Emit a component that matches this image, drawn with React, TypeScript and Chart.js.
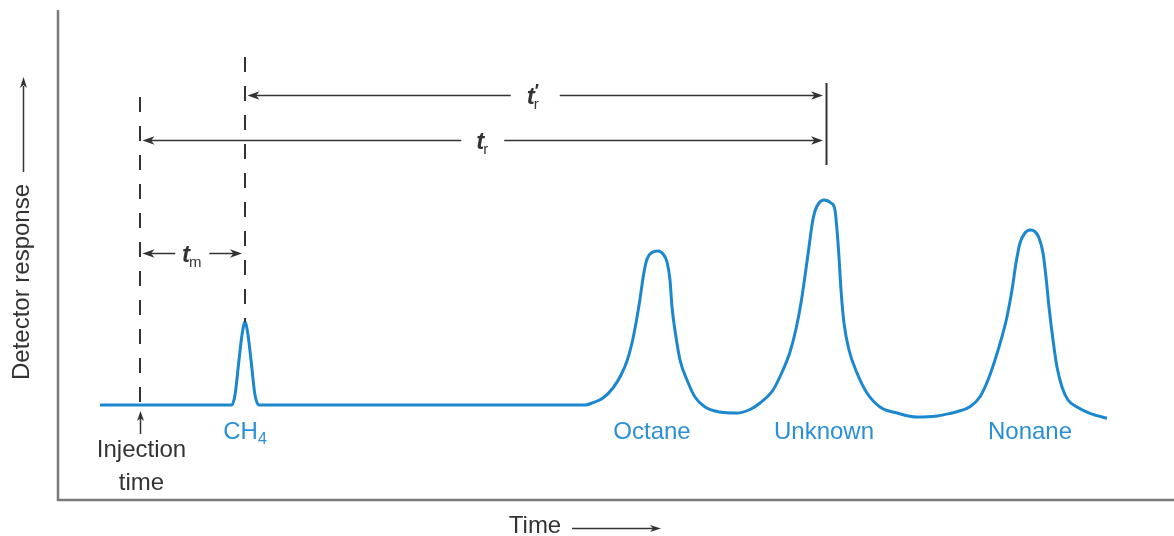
import React, { useEffect, useRef } from "react";
import { Chart, registerables } from "chart.js";

Chart.register(...registerables);

// Time axis (arbitrary units, injection at 0) and detector response (baseline at 0)
const timeValues = [
  -4.0, 9.17, 9.5, 9.9, 10.2, 10.5, 10.8, 11.1, 11.5, 11.9,
  44.5, 45.3, 46.3, 47.3, 48.1, 48.7, 49.2, 49.6, 50.0, 50.35, 50.7, 51.2, 51.8, 52.3, 52.7, 53.0, 53.2, 53.6, 54.0, 54.7, 55.5, 56.5, 58.0, 59.7, 61.0, 62.0,
  63.3, 64.3, 65.0, 65.6, 66.1, 66.5, 66.9, 67.2, 67.5, 67.9, 68.4, 69.1, 69.5, 69.7, 69.9, 70.1, 70.4, 70.9, 71.7, 72.7, 74.0, 75.7, 77.7, 79.7, 81.0,
  81.7, 83.0, 84.0, 84.8, 85.5, 86.2, 86.7, 87.2, 87.6, 88.0, 88.5, 89.0, 89.5, 89.9, 90.3, 90.6, 90.9, 91.3, 91.7, 92.2, 92.8, 93.7, 95.0, 96.7,
];
const responseValues = [
  0, 0, 1.0, 4.5, 7.0, 8.3, 7.0, 4.5, 1.0, 0,
  0, 0.23, 0.7, 1.7, 3.0, 4.4, 6.2, 8.2, 10.6, 13.0, 14.6, 15.25, 15.4, 15.1, 14.3, 12.5, 9.8, 6.8, 4.5, 2.5, 0.8, -0.2, -0.7, -0.8, -0.45, 0.2,
  1.5, 3.5, 5.3, 7.6, 10.2, 12.9, 15.8, 18.0, 19.4, 20.2, 20.5, 20.2, 19.5, 17.5, 14.8, 11.5, 8.2, 5.5, 3.2, 1.2, -0.2, -0.8, -1.2, -1.1, -0.85,
  -0.67, -0.17, 0.83, 2.5, 4.5, 6.83, 8.83, 11.5, 14.2, 16.2, 17.2, 17.5, 17.33, 16.7, 15.2, 12.8, 9.8, 6.5, 3.8, 1.8, 0.5, -0.2, -0.83, -1.33,
];

const peakNames = ["CH", "Octane", "Unknown", "Nonane"];
const peakSubscripts = ["4", "", "", ""];
const peakLabelTimes = [10.5, 51.2, 68.4, 89.0];

const injectionTime = 0;
const methaneTime = 10.5;
const unknownTime = 68.6;

const markerTimes = [injectionTime, methaneTime];
const markerTops = [30.8, 34.8];
const markerBottoms = [0, 8.3];

const spanMain = ["t", "t", "t"];
const spanSub = ["m", "r", "r"];
const spanSup = ["", "", "′"];
const spanStarts = [injectionTime, injectionTime, methaneTime];
const spanEnds = [methaneTime, unknownTime, unknownTime];
const spanLevels = [15.2, 26.5, 30.95];
const spanGaps = [34, 43, 49];

const unknownBarTop = 32.2;
const unknownBarBottom = 24.0;

const xAxisTitle = "Time";
const yAxisTitle = "Detector response";
const injectionLines = ["Injection", "time"];

const LINE_BLUE = "#1b87cf";
const TEXT_BLUE = "#2a8fd6";
const INK = "#333333";
const AXIS_GRAY = "#7a7a7a";
const FONT = "'Liberation Sans', Arial, sans-serif";

function arrowHead(ctx: CanvasRenderingContext2D, x: number, y: number, angle: number, len = 12, half = 4.2) {
  const c = Math.cos(angle);
  const s = Math.sin(angle);
  const bx = x - len * c;
  const by = y - len * s;
  const nx = x - len * 0.72 * c;
  const ny = y - len * 0.72 * s;
  ctx.beginPath();
  ctx.moveTo(x, y);
  ctx.lineTo(bx - half * s, by + half * c);
  ctx.lineTo(nx, ny);
  ctx.lineTo(bx + half * s, by - half * c);
  ctx.closePath();
  ctx.fill();
}

const decorPlugin = {
  id: "chromDecor",
  beforeDatasetsDraw(chart: any) {
    const { ctx, chartArea } = chart;
    ctx.save();
    ctx.strokeStyle = AXIS_GRAY;
    ctx.lineWidth = 2.5;
    ctx.beginPath();
    ctx.moveTo(chartArea.left, chartArea.top);
    ctx.lineTo(chartArea.left, chartArea.bottom);
    ctx.lineTo(chartArea.right, chartArea.bottom);
    ctx.stroke();
    ctx.restore();
  },
  afterDatasetsDraw(chart: any) {
    const { ctx, chartArea } = chart;
    const xs = chart.scales.x;
    const ys = chart.scales.y;
    ctx.save();

    // dashed marker lines
    ctx.strokeStyle = INK;
    ctx.lineWidth = 2;
    ctx.setLineDash([15, 14]);
    markerTimes.forEach((t, i) => {
      const px = Math.round(xs.getPixelForValue(t));
      ctx.beginPath();
      ctx.moveTo(px, ys.getPixelForValue(markerTops[i]));
      ctx.lineTo(px, ys.getPixelForValue(markerBottoms[i]));
      ctx.stroke();
    });
    ctx.setLineDash([]);

    // span (dimension) arrows
    ctx.fillStyle = INK;
    ctx.strokeStyle = INK;
    ctx.lineWidth = 1.7;
    spanStarts.forEach((t0, i) => {
      const x0 = xs.getPixelForValue(t0) + 2.5;
      const x1 = xs.getPixelForValue(spanEnds[i]) - 3;
      const y = Math.round(ys.getPixelForValue(spanLevels[i])) + 0.5;
      const cx = (x0 + x1) / 2;
      const g = spanGaps[i] / 2;
      ctx.beginPath();
      ctx.moveTo(x0 + 8, y);
      ctx.lineTo(cx - g, y);
      ctx.moveTo(cx + g, y);
      ctx.lineTo(x1 - 8, y);
      ctx.stroke();
      arrowHead(ctx, x0, y, Math.PI);
      arrowHead(ctx, x1, y, 0);

      // label
      ctx.font = `italic bold 24px ${FONT}`;
      const wMain = ctx.measureText(spanMain[i]).width;
      ctx.font = `15px ${FONT}`;
      const wSub = ctx.measureText(spanSub[i]).width;
      const total = wMain + wSub;
      const lx = cx - total / 2 + (spanSup[i] ? -2 : 0);
      ctx.textAlign = "left";
      ctx.textBaseline = "alphabetic";
      ctx.font = `italic bold 24px ${FONT}`;
      ctx.fillText(spanMain[i], lx, y + 8);
      ctx.font = `15px ${FONT}`;
      ctx.fillText(spanSub[i], lx + wMain - 1, y + 13);
      if (spanSup[i]) {
        ctx.font = `italic bold 18px ${FONT}`;
        ctx.fillText(spanSup[i], lx + wMain - 1, y + 1);
      }
    });

    // vertical bar at unknown retention time
    const ub = Math.round(xs.getPixelForValue(unknownTime)) + 0.5;
    ctx.lineWidth = 2;
    ctx.beginPath();
    ctx.moveTo(ub, ys.getPixelForValue(unknownBarTop));
    ctx.lineTo(ub, ys.getPixelForValue(unknownBarBottom));
    ctx.stroke();

    // injection arrow and label
    const ix = Math.round(xs.getPixelForValue(injectionTime)) + 0.5;
    const iy = ys.getPixelForValue(-0.6);
    ctx.lineWidth = 1.5;
    ctx.beginPath();
    ctx.moveTo(ix, iy + 6);
    ctx.lineTo(ix, iy + 23);
    ctx.stroke();
    arrowHead(ctx, ix, iy, -Math.PI / 2, 10, 3.5);
    ctx.font = `24px ${FONT}`;
    ctx.fillStyle = INK;
    ctx.textAlign = "center";
    ctx.textBaseline = "middle";
    ctx.fillText(injectionLines[0], ix + 1, iy + 39);
    ctx.fillText(injectionLines[1], ix + 1, iy + 72);

    // peak labels
    ctx.fillStyle = TEXT_BLUE;
    const labelY = ys.getPixelForValue(-2.5);
    peakNames.forEach((name, i) => {
      const px = xs.getPixelForValue(peakLabelTimes[i]);
      ctx.font = `24px ${FONT}`;
      const w1 = ctx.measureText(name).width;
      ctx.font = `16px ${FONT}`;
      const w2 = peakSubscripts[i] ? ctx.measureText(peakSubscripts[i]).width : 0;
      const lx = px - (w1 + w2) / 2;
      ctx.textAlign = "left";
      ctx.textBaseline = "alphabetic";
      ctx.font = `24px ${FONT}`;
      ctx.fillText(name, lx, labelY + 9);
      if (peakSubscripts[i]) {
        ctx.font = `16px ${FONT}`;
        ctx.fillText(peakSubscripts[i], lx + w1, labelY + 14);
      }
    });

    // x-axis title with arrow
    ctx.fillStyle = INK;
    ctx.strokeStyle = INK;
    ctx.font = `24px ${FONT}`;
    ctx.textAlign = "center";
    ctx.textBaseline = "middle";
    const tx = chartArea.left + 477;
    const ty = chartArea.bottom + 26;
    ctx.fillText(xAxisTitle, tx, ty);
    ctx.lineWidth = 1.5;
    ctx.beginPath();
    ctx.moveTo(tx + 37, ty + 2.5);
    ctx.lineTo(tx + 118, ty + 2.5);
    ctx.stroke();
    arrowHead(ctx, tx + 126, ty + 2.5, 0, 11, 3.5);

    // y-axis title with arrow
    const yx = chartArea.left - 36;
    const yc = chartArea.top + 272;
    ctx.save();
    ctx.translate(yx, yc);
    ctx.rotate(-Math.PI / 2);
    ctx.fillText(yAxisTitle, 0, 0);
    ctx.restore();
    ctx.beginPath();
    ctx.moveTo(yx + 1.5, yc - 110);
    ctx.lineTo(yx + 1.5, yc - 196);
    ctx.stroke();
    arrowHead(ctx, yx + 1.5, yc - 205, -Math.PI / 2, 11, 3.5);

    ctx.restore();
  },
};

export default function App() {
  const canvasRef = useRef<HTMLCanvasElement | null>(null);

  useEffect(() => {
    if (!canvasRef.current) return;
    const points = timeValues.map((t, i) => ({ x: t, y: responseValues[i] }));
    const chart = new Chart(canvasRef.current, {
      type: "line",
      data: {
        datasets: [
          {
            data: points,
            borderColor: LINE_BLUE,
            borderWidth: 3,
            pointRadius: 0,
            fill: false,
            cubicInterpolationMode: "monotone",
          } as any,
        ],
      },
      options: {
        animation: false,
        responsive: true,
        maintainAspectRatio: false,
        devicePixelRatio: 1,
        layout: { padding: { left: 58, top: 10, right: 0, bottom: 36 } },
        plugins: { legend: { display: false }, tooltip: { enabled: false } },
        events: [],
        scales: {
          x: { type: "linear", min: -8.2, max: 103.4, display: false },
          y: { type: "linear", min: -9.5, max: 39.5, display: false },
        },
      },
      plugins: [decorPlugin as any],
    });
    return () => chart.destroy();
  }, []);

  return (
    <div style={{ position: "fixed", left: 0, top: 0, width: 1174, height: 536, background: "#fff" }}>
      <canvas ref={canvasRef} />
    </div>
  );
}
